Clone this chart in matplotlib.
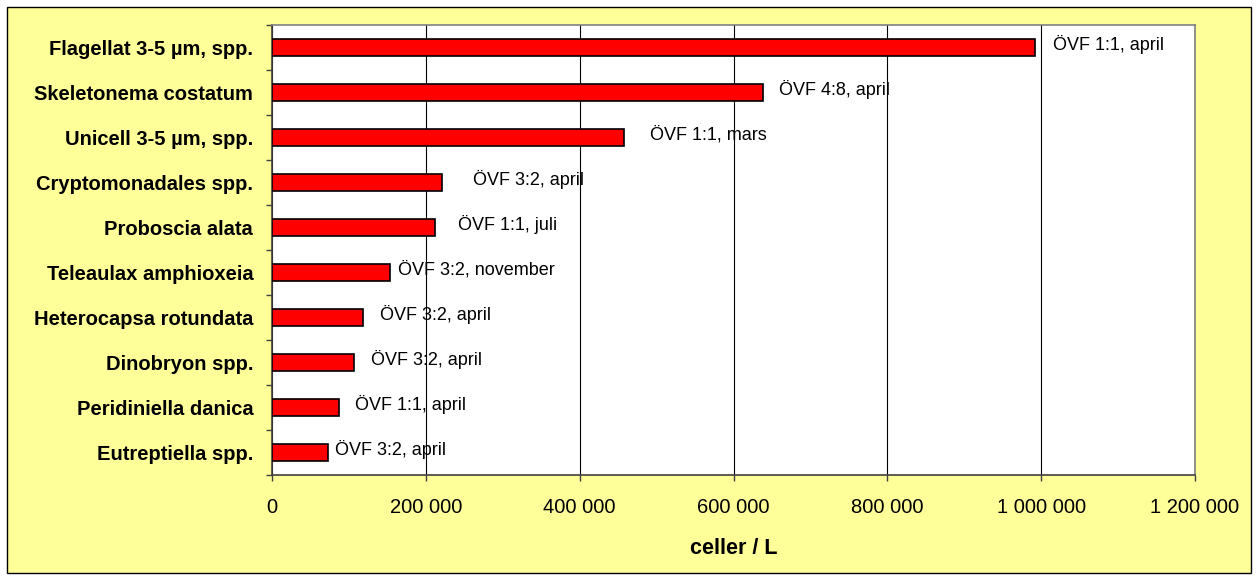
import matplotlib
matplotlib.use("Agg")
import matplotlib.pyplot as plt
from matplotlib.patches import Rectangle
from matplotlib.ticker import FuncFormatter, FixedLocator
import numpy as np

plt.rcParams['font.family'] = ['Liberation Sans', 'DejaVu Sans']

species = [
    "Flagellat 3-5 µm, spp.",
    "Skeletonema costatum",
    "Unicell 3-5 µm, spp.",
    "Cryptomonadales spp.",
    "Proboscia alata",
    "Teleaulax amphioxeia",
    "Heterocapsa rotundata",
    "Dinobryon spp.",
    "Peridiniella danica",
    "Eutreptiella spp.",
]
cells = [992000, 639000, 457000, 221000, 212000, 154000, 118000, 107000, 86500, 73000]
notes = [
    "ÖVF 1:1, april",
    "ÖVF 4:8, april",
    "ÖVF 1:1, mars",
    "ÖVF 3:2, april",
    "ÖVF 1:1, juli",
    "ÖVF 3:2, november",
    "ÖVF 3:2, april",
    "ÖVF 3:2, april",
    "ÖVF 1:1, april",
    "ÖVF 3:2, april",
]
# label offsets from bar end, in pixels (manually placed in the original)
note_dx = [18, 16, 26, 31, 23, 8, 17, 17, 16, 7]
xticks = [0, 200000, 400000, 600000, 800000, 1000000, 1200000]

yellow = "#FFFF99"

fig = plt.figure(figsize=(12.6, 5.8), dpi=100)
fig.patch.set_facecolor("white")
fig.patches.append(Rectangle((7 / 1260, 7 / 580), 1244 / 1260, 566 / 580,
                             transform=fig.transFigure, facecolor=yellow,
                             edgecolor="black", linewidth=1.0, zorder=-10))

ax = fig.add_axes([272 / 1260, 105 / 580, 923 / 1260, 450 / 580])
ax.set_facecolor("white")

y = np.arange(len(species))
ax.barh(y, cells, height=0.38, color="#FF0000", edgecolor="black",
        linewidth=1.2, zorder=3)
ax.set_ylim(len(species) - 0.5, -0.5)
ax.set_xlim(0, 1200000)

for yi, val, txt, dx in zip(y, cells, notes, note_dx):
    ax.annotate(txt, (val, yi), xytext=(dx * 0.72, 2), textcoords="offset points",
                ha="left", va="center", fontsize=13, color="black", zorder=4)

ax.set_yticks(y)
ax.set_yticklabels(species, fontsize=14.5, fontweight="bold")
ax.yaxis.set_minor_locator(FixedLocator(np.arange(len(species) + 1) - 0.5))
ax.tick_params(axis="y", which="major", length=0, pad=13.5)
ax.tick_params(axis="y", which="minor", length=4.5, width=1, color="#404040", direction="out")

ax.set_xticks(xticks)
ax.xaxis.set_major_formatter(FuncFormatter(lambda v, p: f"{int(v):,}".replace(",", " ")))
ax.tick_params(axis="x", length=4.5, width=1, color="#404040", direction="out",
               pad=12, labelsize=14.5)
ax.set_xlabel("celler / L", fontsize=15.5, fontweight="bold", labelpad=15)

ax.grid(axis="x", color="black", linewidth=0.8, zorder=0)
ax.set_axisbelow(True)
for side in ["top", "right"]:
    ax.spines[side].set_color("#808080")
    ax.spines[side].set_linewidth(1.2)
ax.spines["left"].set_color("#404040")
ax.spines["bottom"].set_color("#404040")
ax.spines["left"].set_linewidth(1.2)
ax.spines["bottom"].set_linewidth(1.2)

plt.savefig("out.png", dpi=100)
plt.close(fig)
